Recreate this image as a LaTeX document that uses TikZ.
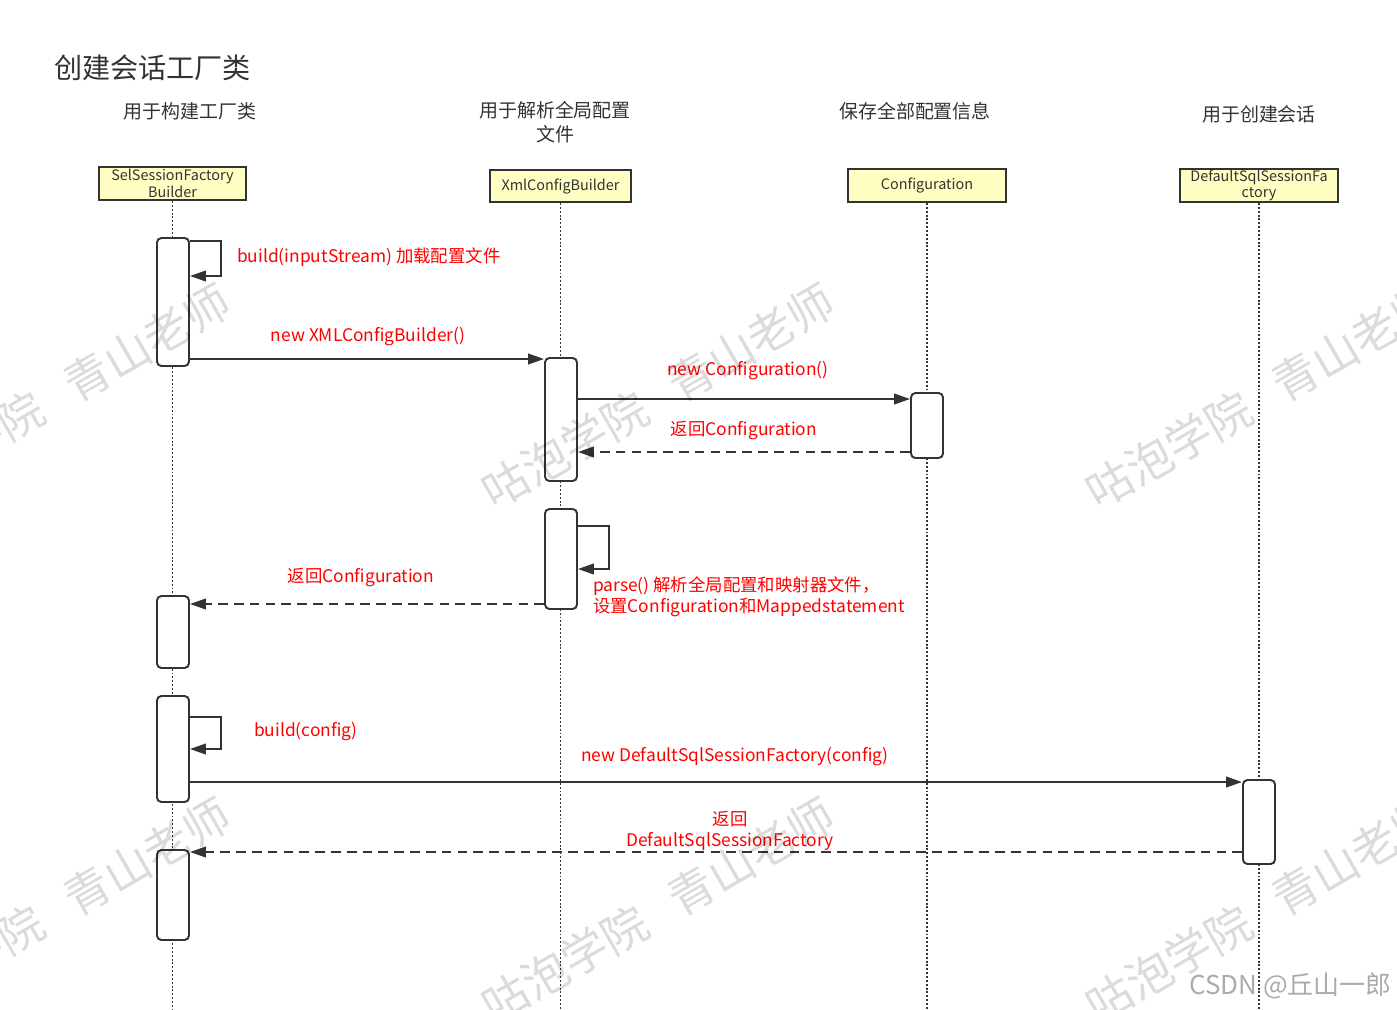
\documentclass[tikz,border=0pt]{standalone}
\usepackage{fontspec}
\setmainfont{Noto Sans CJK SC}
\usetikzlibrary{arrows.meta}
\definecolor{linegray}{HTML}{333333}
\definecolor{headfill}{HTML}{FFFFC4}
\definecolor{msgred}{HTML}{FF0000}
\begin{document}
\begin{tikzpicture}[
    x=0.02cm, y=-0.02cm,
    every node/.style={font=\fontsize{9.4}{12}\selectfont},
    head/.style={rectangle, draw=linegray, line width=1.1pt, fill=headfill,
        inner sep=0pt, minimum height=0.66cm, align=center,
        font=\fontsize{8.2}{9.4}\selectfont, text=linegray},
    role/.style={font=\fontsize{10.8}{13.6}\selectfont, text=linegray, align=center},
    act/.style={rectangle, rounded corners=2.5pt, draw=linegray, line width=1.1pt,
        fill=white, minimum width=0.64cm, inner sep=0pt},
    life/.style={draw=linegray, line width=1pt, dash pattern=on 1.1pt off 1.1pt},
    call/.style={draw=linegray, line width=1.1pt, -{Triangle[length=9pt, width=6pt]}},
    reply/.style={call, dash pattern=on 5.5pt off 3.5pt},
    msg/.style={text=msgred, font=\fontsize{9.9}{12}\selectfont, align=center, inner sep=1pt},
    wmark/.style={rotate=30, text=black, text opacity=0.14, font=\fontsize{26}{26}\selectfont},
]
\useasboundingbox (0,0) rectangle (1397,1009);

% title and roles
\node[anchor=west, font=\fontsize{16}{19}\selectfont, text=linegray, inner sep=1pt] (title) at (52,68) {创建会话工厂类};
\node[role] (r1) at (190,111) {用于构建工厂类};
\node[role] (r2) at (555,122) {用于解析全局配置\\文件};
\node[role] (r3) at (915,111) {保存全部配置信息};
\node[role] (r4) at (1259,114) {用于创建会话};

% lifeline heads
\node[head, minimum width=2.94cm] (selb) at (172.5,183.5) {SelSessionFactory\\Builder};
\node[head, minimum width=2.82cm, minimum height=0.64cm] (xmlb) at (560.5,186) {XmlConfigBuilder};
\node[head, minimum width=3.16cm] (conf) at (927,185.5) {Configuration};
\node[head, minimum width=3.16cm] (dsf) at (1259,185.5) {DefaultSqlSessionFa\\ctory};

% lifelines
\coordinate (bot) at (0,1009);
\foreach \h in {selb,xmlb,conf,dsf}
    \draw[life] (\h.south) -- (\h.south |- bot);

% activations
\node[act, minimum height=2.56cm] (act1) at (173,302) {};
\node[act, minimum height=2.46cm] (act2) at (561,419.5) {};
\node[act, minimum height=1.30cm] (act3) at (927,425.5) {};
\node[act, minimum height=2.00cm] (act4) at (561,559) {};
\node[act, minimum height=1.44cm] (act5) at (173,632) {};
\node[act, minimum height=2.12cm] (act6) at (173,749) {};
\node[act, minimum height=1.68cm] (act7) at (1259,822) {};
\node[act, minimum height=1.80cm] (act8) at (173,895) {};

% message levels
\coordinate (m1a) at (0,241);  \coordinate (m1b) at (0,276);
\coordinate (m2) at (0,359);
\coordinate (m3) at (0,399);
\coordinate (m4) at (0,452);
\coordinate (m5a) at (0,526);  \coordinate (m5b) at (0,569);
\coordinate (m6) at (0,604);
\coordinate (m7a) at (0,717);  \coordinate (m7b) at (0,749);
\coordinate (m8) at (0,782);
\coordinate (m9) at (0,852);

% messages
\draw[call] (act1.east |- m1a) -- ++(31,0) |- (act1.east |- m1b);
\draw[call] (act1.east |- m2) -- (act2.west |- m2);
\draw[call] (act2.east |- m3) -- (act3.west |- m3);
\draw[reply] (act3.west |- m4) -- (act2.east |- m4);
\draw[call] (act4.east |- m5a) -- ++(31,0) |- (act4.east |- m5b);
\draw[reply] (act4.west |- m6) -- (act5.east |- m6);
\draw[call] (act6.east |- m7a) -- ++(31,0) |- (act6.east |- m7b);
\draw[call] (act6.east |- m8) -- (act7.west |- m8);
\draw[reply] (act7.west |- m9) -- (act8.east |- m9);

% message labels
\node[msg, anchor=west] (l1) at (235,257) {build(inputStream) 加载配置文件};
\node[msg] (l2) at (368,337) {new XMLConfigBuilder()};
\node[msg] (l3) at (748,371) {new Configuration()};
\node[msg] (l4) at (744,430) {返回Configuration};
\node[msg, anchor=west, align=left] (l5) at (591,597) {parse() 解析全局配置和映射器文件，\\设置Configuration和Mappedstatement};
\node[msg] (l6) at (361,577) {返回Configuration};
\node[msg, anchor=west] (l7) at (252,732) {build(config)};
\node[msg] (l8) at (735,757) {new DefaultSqlSessionFactory(config)};
\node[msg] (l9) at (730,831) {返回\\DefaultSqlSessionFactory};

% watermarks
\begin{scope}
\clip (0,0) rectangle (1397,1009);
\foreach \wx in {54,658,1262}
    \foreach \wy in {396,910}
        \node[wmark] at (\wx,\wy) {咕泡学院\hspace{0.7em}青山老师};
\end{scope}
\node[anchor=east, text=black!33, font=\fontsize{14.8}{17}\selectfont, inner sep=1pt] (csdn) at (1394,986) {CSDN @丘山一郎};
\end{tikzpicture}
\end{document}
